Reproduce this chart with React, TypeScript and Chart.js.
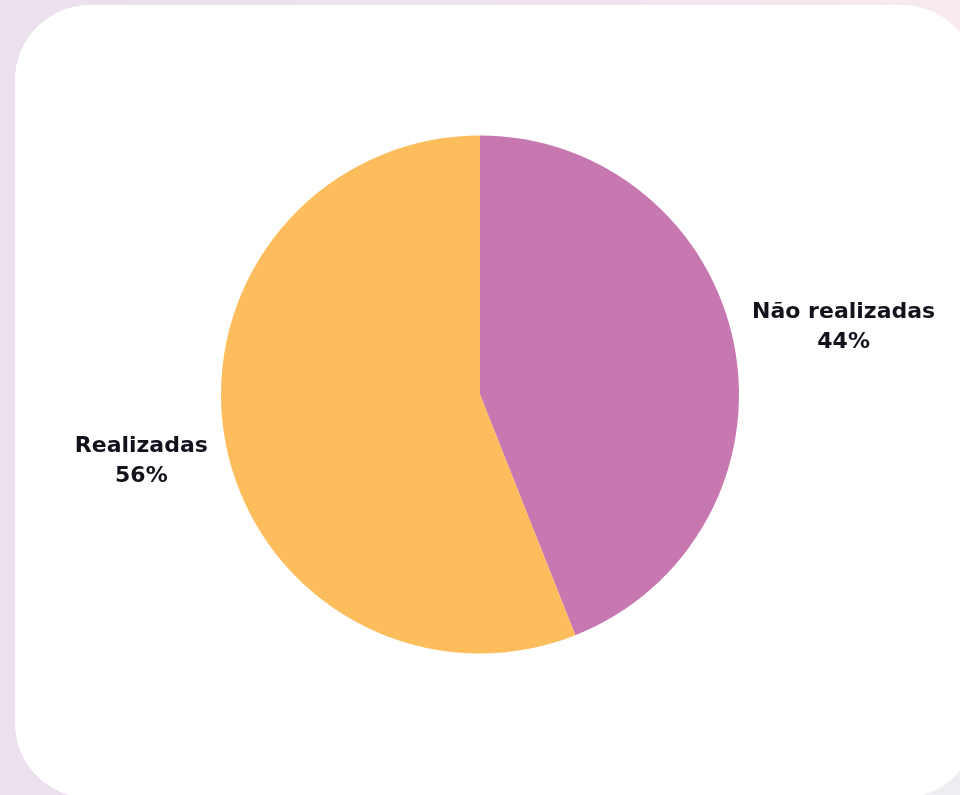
import React, { useEffect, useRef } from "react";
import { Chart, registerables } from "chart.js";

Chart.register(...registerables);

const categories = ["Não realizadas", "Realizadas"];
const values = [44, 56];
const colors = ["#c778b0", "#fdbd5c"];

const labelPlugin = {
  id: "outerLabels",
  afterDatasetsDraw(chart: any) {
    const ctx = chart.ctx;
    const meta = chart.getDatasetMeta(0);
    const total = values.reduce((a, b) => a + b, 0);
    ctx.save();
    ctx.font = "bold 22px 'DejaVu Sans'";
    ctx.fillStyle = "#12121c";
    ctx.textAlign = "center";
    ctx.textBaseline = "middle";
    meta.data.forEach((arc: any, i: number) => {
      const { x, y, startAngle, endAngle, outerRadius } = arc.getProps(
        ["x", "y", "startAngle", "endAngle", "outerRadius"],
        true
      );
      const mid = (startAngle + endAngle) / 2;
      const dx = Math.cos(mid);
      const dy = Math.sin(mid);
      const name = categories[i];
      const pct = Math.round((values[i] / total) * 100) + "%";
      const w = ctx.measureText(name).width;
      const dist = outerRadius + 18 + w / 2 / Math.max(Math.abs(dx), 0.3);
      const cx = x + dx * dist;
      const cy = y + dy * dist;
      ctx.fillText(name, cx, cy - 12.5);
      ctx.fillText(pct, cx, cy + 17);
    });
    ctx.restore();
  },
};

export default function App() {
  const ref = useRef<HTMLCanvasElement>(null);
  useEffect(() => {
    document.body.style.margin = "0";
    const chart = new Chart(ref.current!, {
      type: "pie",
      data: {
        labels: categories,
        datasets: [
          {
            data: values,
            backgroundColor: colors,
            borderWidth: 0,
            hoverOffset: 0,
          },
        ],
      },
      options: {
        animation: false,
        responsive: false,
        maintainAspectRatio: false,
        layout: { padding: { top: 135.5, bottom: 141.5, left: 221, right: 221 } },
        plugins: {
          legend: { display: false },
          tooltip: { enabled: false },
        },
      },
      plugins: [labelPlugin],
    });
    return () => chart.destroy();
  }, []);

  return (
    <div
      style={{
        position: "fixed",
        left: 0,
        top: 0,
        width: 960,
        height: 795,
        overflow: "hidden",
        background:
          "radial-gradient(circle at 100% 100%, #eeeef2 0%, rgba(238,238,242,0) 30%), linear-gradient(90deg, #ece0ef 0%, #efe2ef 50%, #f8eaee 100%)",
      }}
    >
      <div
        style={{
          position: "absolute",
          left: 15,
          top: 5,
          width: 962,
          height: 793,
          borderRadius: 75,
          background: "#ffffff",
        }}
      />
      <canvas
        ref={ref}
        width={960}
        height={795}
        style={{ position: "absolute", left: 0, top: 0, width: 960, height: 795 }}
      />
    </div>
  );
}
